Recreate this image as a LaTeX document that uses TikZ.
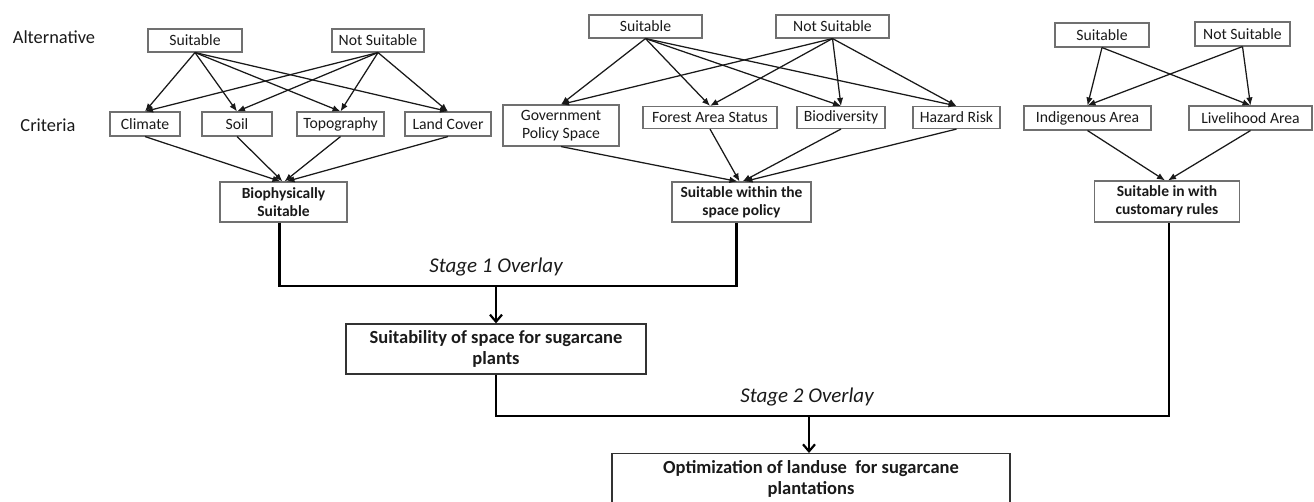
\documentclass[tikz,border=0pt]{standalone}
\usepackage{fontspec}
\setmainfont{Carlito}
\usetikzlibrary{arrows.meta}
\definecolor{boxline}{HTML}{707070}
\definecolor{txt}{HTML}{1A1A1A}
\tikzset{
  box/.style={draw=boxline, line width=1.1pt, inner sep=0pt, align=center, text=txt,
    font=\fontsize{15.7}{18}\selectfont},
  bbox/.style={box, font=\bfseries\fontsize{15.5}{18}\selectfont},
  bigbox/.style={box, line width=1.3pt, draw=black!80, font=\bfseries\fontsize{18.5}{20.5}\selectfont},
  lbl/.style={inner sep=0pt, text=txt, font=\fontsize{18.4}{20}\selectfont},
  stagelbl/.style={inner sep=0pt, text=txt, font=\itshape\fontsize{21}{23}\selectfont},
  arr/.style={line width=1.25pt, draw=black!90, -{Latex[length=8pt,width=6.5pt]}},
  overlay/.style={line width=2.3pt, black},
  downarr/.style={line width=2.2pt, black, -{Straight Barb[length=7pt,width=12pt]}}
}
\begin{document}
\begin{tikzpicture}[x=1pt,y=-1pt]
\clip (0,0) rectangle (1314,501);
\fill[white] (0,0) rectangle (1314,501);

% labels
\node[lbl] (alt) at (54,37) {Alternative};
\node[lbl] (crit) at (48,125) {Criteria};

% left group
\node[box, minimum width=94, minimum height=23] (s1) at (195,40.5) {Suitable};
\node[box, minimum width=92, minimum height=23] (n1) at (378,40.5) {Not Suitable};
\node[box, minimum width=70, minimum height=24] (c1) at (145,124) {Climate};
\node[box, minimum width=70, minimum height=24] (c2) at (237,124) {Soil};
\node[box, minimum width=87, minimum height=24] (c3) at (340.5,124) {Topography};
\node[box, minimum width=86, minimum height=24] (c4) at (448,124) {Land Cover};
\node[bbox, minimum width=127, minimum height=40] (bio) at (283.5,202) {Biophysically\\Suitable};

% middle group
\node[box, minimum width=113, minimum height=23] (s2) at (645.5,26.5) {Suitable};
\node[box, minimum width=113, minimum height=23] (n2) at (832.5,26.5) {Not Suitable};
\node[box, minimum width=116, minimum height=41] (g1) at (561,125.5) {Government\\Policy Space};
\node[box, minimum width=134, minimum height=22] (g2) at (710,117.5) {Forest Area Status};
\node[box, minimum width=88, minimum height=22] (g3) at (841,117.5) {Biodiversity};
\node[box, minimum width=87, minimum height=22] (g4) at (956.5,117.5) {Hazard Risk};
\node[bbox, minimum width=139, minimum height=40] (pol) at (741.5,202) {Suitable within the\\space policy};

% right group
\node[box, minimum width=94, minimum height=24] (s3) at (1102,35) {Suitable};
\node[box, minimum width=95, minimum height=24] (n3) at (1242.5,34) {Not Suitable};
\node[box, minimum width=127, minimum height=24] (i1) at (1087.5,118) {Indigenous Area};
\node[box, minimum width=123, minimum height=24] (i2) at (1250.5,118) {Livelihood Area};
\node[bbox, minimum width=145, minimum height=41] (cus) at (1167,201.5) {Suitable in with\\customary rules};

% lower boxes
\node[bigbox, minimum width=300, minimum height=50] (suit) at (496,349) {Suitability of space for sugarcane\\plants};
\node[bigbox, minimum width=398, inner ysep=7pt, anchor=north] (opt) at (811,453) {Optimization of landuse\ \ for sugarcane\\plantations};

% left arrows
\foreach \t in {c1,c2,c3,c4}{
  \draw[arr] (s1.south) -- (\t.north);
  \draw[arr] (n1.south) -- (\t.north);
}
\draw[arr] (c1.south) -- ([xshift=-3]bio.north);
\draw[arr] (c2.south) -- ([xshift=-1]bio.north);
\draw[arr] (c3.south) -- ([xshift=1]bio.north);
\draw[arr] (c4.south) -- ([xshift=3]bio.north);

% middle arrows
\foreach \t in {g1,g2,g3,g4}{
  \draw[arr] (s2.south) -- (\t.north);
  \draw[arr] (n2.south) -- (\t.north);
}
\draw[arr] (g1.south) -- ([xshift=-4]pol.north);
\draw[arr] (g2.south) -- ([xshift=-2]pol.north);
\draw[arr] (g3.south) -- ([xshift=1]pol.north);
\draw[arr] (g4.south) -- ([xshift=3]pol.north);

% right arrows
\foreach \t in {i1,i2}{
  \draw[arr] (s3.south) -- (\t.north);
  \draw[arr] (n3.south) -- (\t.north);
}
\draw[arr] (i1.south) -- ([xshift=-2]cus.north);
\draw[arr] (i2.south) -- ([xshift=1]cus.north);

% stage 1 overlay
\coordinate (j1) at (496,286);
\draw[overlay] ([xshift=-4]bio.south) |- (j1) -| ([xshift=-5]pol.south);
\draw[downarr] (j1) -- (suit.north);
\node[stagelbl] (st1) at (496,267) {Stage 1 Overlay};

% stage 2 overlay
\coordinate (j2) at (809,416);
\draw[overlay] (suit.south) |- (j2) -| ([xshift=2]cus.south);
\draw[downarr] (j2) -- ([xshift=-2]opt.north);
\node[stagelbl] (st2) at (807,397) {Stage 2 Overlay};
\end{tikzpicture}
\end{document}
